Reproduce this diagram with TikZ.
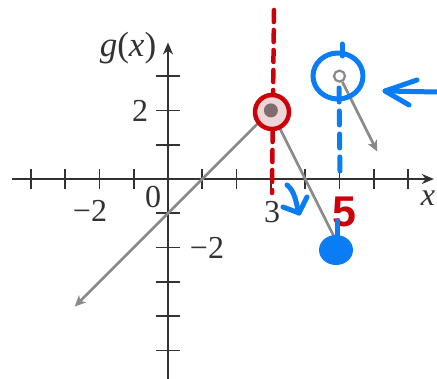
\documentclass[tikz,border=0pt]{standalone}
\usepackage{fontspec}
\setmainfont{Liberation Serif}
\newfontfamily\handfont{Liberation Sans}
\usetikzlibrary{arrows.meta}
\definecolor{axisc}{RGB}{50,50,50}
\definecolor{graphc}{RGB}{138,138,138}
\definecolor{penred}{RGB}{205,0,10}
\definecolor{penblue}{RGB}{10,125,245}
\definecolor{pinkfill}{RGB}{236,214,214}
\definecolor{dotc}{RGB}{128,108,110}
\begin{document}
\begin{tikzpicture}[x=1pt,y=-1pt,
  axis/.style={draw=axisc,line width=2.1pt},
  tickline/.style={draw=axisc,line width=1.7pt},
  graphline/.style={draw=graphc,line width=2.7pt},
  lbl/.style={font=\fontsize{32}{32}\selectfont,text=axisc,inner sep=0pt},
  redpen/.style={draw=penred,line width=4.5pt,line cap=round},
  bluepen/.style={draw=penblue,line width=5pt,line cap=round,line join=round},
  opendot/.style={circle,draw=graphc,fill=white,line width=2.2pt,minimum size=11pt,inner sep=0pt},
]
\useasboundingbox (0,0) rectangle (437,379);
\clip (0,0) rectangle (437,379);
\fill[white] (0,0) rectangle (437,379);

% ---- axes and graph in math units ----
\begin{scope}[shift={(168pt,-179pt)},x=34.3pt,y=34.3pt]
  \coordinate (xl) at (-4.55,0);
  \coordinate (xr) at (7.75,0);
  \coordinate (yb) at (0,-6);
  \coordinate (yt) at (0,3.98);
  \draw[axis,-{Stealth[length=12pt,width=10pt]}] (xl) -- (xr);
  \draw[axis,-{Stealth[length=12pt,width=10pt]}] (yb) -- (yt);
  \foreach \i in {-4,-3,-2,-1,1,2,3,4,5,6,7}
    \draw[tickline] (\i,-0.29) -- (\i,0.29);
  \foreach \j in {-5,-4,-3,-2,-1,1,2,3}
    \draw[tickline] (-0.35,\j) -- (0.35,\j);
  \coordinate (p0) at (-2.72,-3.72);
  \coordinate (p1) at (3,2);
  \coordinate (p2) at (5,-2);
  \coordinate (p3) at (5,3);
  \coordinate (p4) at (6.1,0.8);
  \draw[graphline,{Stealth[length=11pt,width=10pt,inset=3pt]}-] (p0) -- (p1);
  \draw[graphline] (p1) -- (p2);
  \node[opendot] (oc) at (p3) {};
  \draw[graphline,-{Stealth[length=11pt,width=10pt,inset=3pt]}] (oc) -- (p4);
\end{scope}

% ---- printed labels ----
\node[lbl,font=\fontsize{35}{35}\selectfont] (gl) at (128,48) {\itshape g\/\upshape(\itshape x\/\upshape)};
\node[lbl] (l2y) at (140,111) {2};
\node[lbl] (lm2x) at (90,211) {−2};
\node[lbl] (l0) at (153,197) {0};
\node[lbl] (l3) at (272,212) {3};
\node[lbl] (lm2y) at (207,248) {−2};
\node[lbl] (lx) at (428,198) {\itshape x};

% ---- red annotations ----
\coordinate (rdt) at (274,10);
\coordinate (rdb) at (272,193);
\draw[redpen,dash pattern=on 12pt off 8pt] (rdt) -- (rdb);
\node[circle,minimum size=34pt,draw=penred,line width=4.5pt,fill=pinkfill,inner sep=0pt] (rc) at (272,112) {};
\node[circle,fill=dotc,minimum size=14pt,inner sep=0pt] (dot) at (p1) {};
\node[text=penred,font=\handfont\bfseries\fontsize{43}{43}\selectfont,inner sep=0pt] (five) at (344,212) {5};

% ---- blue annotations ----
\draw[bluepen] (338,76) ellipse [x radius=25, y radius=23];
\coordinate (btt) at (342,44);
\coordinate (btb) at (342,56);
\draw[bluepen] (btt) -- (btb);
\coordinate (bdt) at (339,88);
\coordinate (bdb) at (340,172);
\draw[bluepen,dash pattern=on 14pt off 9pt] (bdt) -- (bdb);
\coordinate (bar) at (437,92);
\coordinate (bat) at (385,91);
\coordinate (bb1) at (417,80);
\coordinate (bb2) at (409,105);
\draw[bluepen] (bar) -- (bat);
\draw[bluepen] (bb1) -- (bat) -- (bb2);
\coordinate (hs) at (287,185);
\coordinate (ht) at (299,213);
\coordinate (hb1) at (283,207);
\coordinate (hb2) at (307,197);
\draw[bluepen] (hs) .. controls (296,192) and (296,205) .. (ht);
\draw[bluepen] (hb1) -- (ht) -- (hb2);
\coordinate (bst) at (337,221);
\coordinate (bsb) at (337,240);
\draw[bluepen] (bst) -- (bsb);
\fill[penblue] (336,250) ellipse [x radius=17, y radius=15];
\end{tikzpicture}
\end{document}
